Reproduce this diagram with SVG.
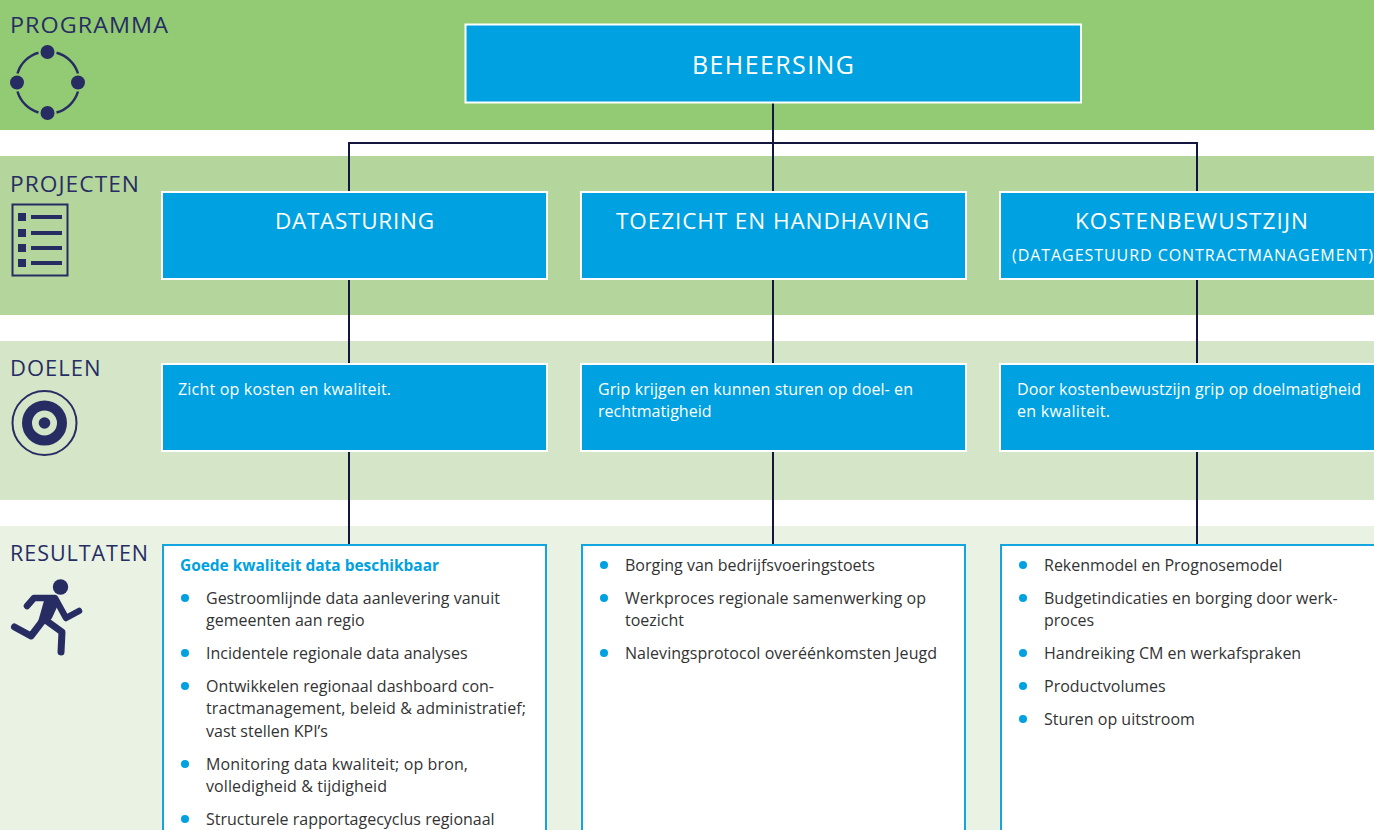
<svg xmlns="http://www.w3.org/2000/svg" width="1374" height="830" viewBox="0 0 1374 830">
<style>
text{font-family:"Open Sans","Noto Sans",sans-serif}
.band{stroke:none}
.lbl{font-size:22px;fill:#272d63;letter-spacing:1px}
.box{fill:#00a1e1;stroke:#fff;stroke-width:2}
.res{fill:#fff;stroke:#12a5df;stroke-width:2}
.h1{font-size:22.500px;fill:#fff;letter-spacing:1px}
.h0{font-size:25px;fill:#fff;letter-spacing:1px}
.t{font-size:16px;fill:#fff}
.b{font-size:16px;fill:#333}
.hd{font-size:16px;fill:#00a1e1;font-weight:700}
.dot{fill:#00a1e1}
.ic{fill:#272d63}
.icl{fill:none;stroke:#272d63}
.con{fill:none;stroke:#14163f;stroke-width:2}
</style>
<rect width="1374" height="830" fill="#fff"/>
<g id="bands">
<rect class="band" x="0" y="0" width="1374" height="130" fill="#93cb74"/>
<rect class="band" x="0" y="156" width="1374" height="159" fill="#b4d59c"/>
<rect class="band" x="0" y="341" width="1374" height="159" fill="#d5e6c8"/>
<rect class="band" x="0" y="526" width="1374" height="304" fill="#e9f2e3"/>
</g>
<g id="connectors">
<path class="con" d="M773 102V192M349 192V143H1197V192M349 279V364M773 279V364M1197 279V364M349 452V545M773 452V545M1197 452V545"/>
</g>
<g id="programma">
<text class="lbl" x="10" y="33" textLength="159" lengthAdjust="spacingAndGlyphs">PROGRAMMA</text>
<g class="ic"><circle cx="47.500" cy="52" r="7"/><circle cx="17" cy="82.500" r="7"/><circle cx="78" cy="82.500" r="7"/><circle cx="47.500" cy="113" r="7"/></g>
<path class="icl" stroke-width="2.500" d="M56.500 52.800A31 31 0 0 1 78 73.500M78 91.500A31 31 0 0 1 56.500 112.500M38.500 112.500A31 31 0 0 1 17.500 91.500M17.500 73.500A31 31 0 0 1 38.500 52.800"/>
</g>
<g id="projecten">
<text class="lbl" x="10" y="192" textLength="130" lengthAdjust="spacingAndGlyphs">PROJECTEN</text>
<rect class="icl" stroke-width="2" x="12.500" y="204.500" width="55" height="71"/>
<g class="ic"><rect x="18" y="213" width="8" height="8"/><rect x="18" y="229" width="8" height="8"/><rect x="18" y="244" width="8" height="8"/><rect x="18" y="259" width="8" height="8"/><rect x="31" y="215" width="31" height="4"/><rect x="31" y="231" width="31" height="4"/><rect x="31" y="246" width="31" height="4"/><rect x="31" y="261" width="31" height="4"/></g>
</g>
<g id="doelen">
<text class="lbl" x="10" y="376" textLength="91.500" lengthAdjust="spacingAndGlyphs">DOELEN</text>
<circle class="icl" stroke-width="2" cx="44.500" cy="423" r="32"/>
<circle class="icl" stroke-width="10" cx="44.500" cy="423" r="17.500"/>
<circle class="ic" cx="44.500" cy="423" r="5.800"/>
</g>
<g id="resultaten">
<text class="lbl" x="10" y="561" textLength="139" lengthAdjust="spacingAndGlyphs">RESULTATEN</text>
<circle class="ic" cx="60.500" cy="587" r="7.700"/>
<path class="icl" stroke-width="6.500" stroke-linecap="round" stroke-linejoin="round" d="M27 606L34 598H55L66 618L79 611"/>
<path class="icl" stroke-width="7" stroke-linecap="round" stroke-linejoin="round" d="M14.500 627L31 636L44 619L62 632L61 652"/>
<path class="ic" d="M45 597H57L58 605L52 618L47 624L38 622Z"/>
</g>
<g id="beheersing">
<rect class="box" x="465.500" y="24.500" width="615.500" height="78"/>
<text class="h0" x="692" y="74" textLength="163">BEHEERSING</text>
</g>
<g id="p1">
<rect class="box" x="162" y="192" width="385" height="87"/>
<text class="h1" x="275" y="229" textLength="160">DATASTURING</text>
</g>
<g id="p2">
<rect class="box" x="581" y="192" width="385" height="87"/>
<text class="h1" x="616" y="229" textLength="314">TOEZICHT EN HANDHAVING</text>
</g>
<g id="p3">
<rect class="box" x="1000" y="192" width="385" height="87"/>
<text class="h1" x="1075" y="229" textLength="234">KOSTENBEWUSTZIJN</text>
<text class="t" x="1012" y="261" textLength="361">(DATAGESTUURD CONTRACTMANAGEMENT)</text>
</g>
<g id="d1">
<rect class="box" x="162" y="364" width="385" height="87"/>
<text class="t" x="178" y="395" textLength="213">Zicht op kosten en kwaliteit.</text>
</g>
<g id="d2">
<rect class="box" x="581" y="364" width="385" height="87"/>
<text class="t" x="598" y="395" textLength="315">Grip krijgen en kunnen sturen op doel- en</text>
<text class="t" x="598" y="417">rechtmatigheid</text>
</g>
<g id="d3">
<rect class="box" x="1000" y="364" width="385" height="87"/>
<text class="t" x="1017" y="395" textLength="344">Door kostenbewustzijn grip op doelmatigheid</text>
<text class="t" x="1017" y="417" textLength="93">en kwaliteit.</text>
</g>
<g id="r1">
<rect class="res" x="163" y="545" width="383" height="300"/>
<text class="hd" x="180" y="571" textLength="259" lengthAdjust="spacingAndGlyphs">Goede kwaliteit data beschikbaar</text>
<g class="dot"><circle cx="185" cy="598" r="4"/><circle cx="185" cy="653" r="4"/><circle cx="185" cy="686" r="4"/><circle cx="185" cy="764" r="4"/><circle cx="185" cy="819" r="4"/></g>
<text class="b" x="206" y="604">Gestroomlijnde data aanlevering vanuit</text>
<text class="b" x="206" y="626">gemeenten aan regio</text>
<text class="b" x="206" y="659">Incidentele regionale data analyses</text>
<text class="b" x="206" y="692">Ontwikkelen regionaal dashboard con-</text>
<text class="b" x="206" y="714" textLength="320">tractmanagement, beleid &amp; administratief;</text>
<text class="b" x="206" y="737">vast stellen KPI’s</text>
<text class="b" x="206" y="770" textLength="262">Monitoring data kwaliteit; op bron,</text>
<text class="b" x="206" y="792" textLength="181">volledigheid &amp; tijdigheid</text>
<text class="b" x="206" y="825">Structurele rapportagecyclus regionaal</text>
</g>
<g id="r2">
<rect class="res" x="582" y="545" width="383" height="300"/>
<g class="dot"><circle cx="604" cy="565" r="4"/><circle cx="604" cy="598" r="4"/><circle cx="604" cy="653" r="4"/></g>
<text class="b" x="625" y="571">Borging van bedrijfsvoeringstoets</text>
<text class="b" x="625" y="604" textLength="301">Werkproces regionale samenwerking op</text>
<text class="b" x="625" y="626">toezicht</text>
<text class="b" x="625" y="659" textLength="312">Nalevingsprotocol overéénkomsten Jeugd</text>
</g>
<g id="r3">
<rect class="res" x="1001" y="545" width="383" height="300"/>
<g class="dot"><circle cx="1023" cy="565" r="4"/><circle cx="1023" cy="598" r="4"/><circle cx="1023" cy="653" r="4"/><circle cx="1023" cy="686" r="4"/><circle cx="1023" cy="719" r="4"/></g>
<text class="b" x="1044" y="571">Rekenmodel en Prognosemodel</text>
<text class="b" x="1044" y="604">Budgetindicaties en borging door werk-</text>
<text class="b" x="1044" y="626">proces</text>
<text class="b" x="1044" y="659">Handreiking CM en werkafspraken</text>
<text class="b" x="1044" y="692">Productvolumes</text>
<text class="b" x="1044" y="725">Sturen op uitstroom</text>
</g>
</svg>
